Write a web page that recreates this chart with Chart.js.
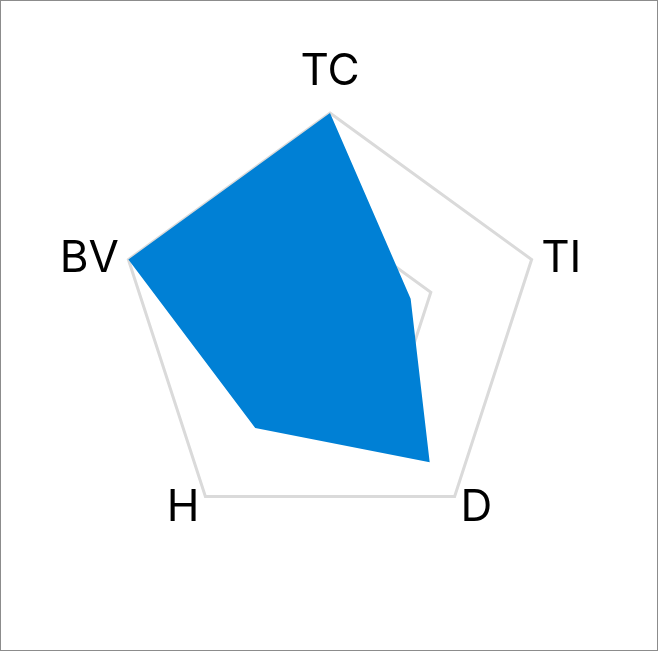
<!DOCTYPE html>
<html><head><meta charset="utf-8">
<script src="https://cdn.jsdelivr.net/npm/chart.js@4"></script>
<style>
html,body{margin:0;padding:0;background:#fff;}
#wrap{width:658px;height:651px;box-sizing:border-box;border:1px solid #8c8c8c;position:relative;}
canvas{display:block;}
</style></head><body>
<div id="wrap"><canvas id="c" width="656" height="649"></canvas></div>
<script>
const categories = ["TC","TI","D","H","BV"];
const values = [1.0, 0.4, 0.8, 0.6, 1.0];
const tickSteps = [0, 0.5, 1.0];

const labelFont = '44px Inter';
const capHeight = 32;

const pointLabelPlugin = {
  id: 'customPointLabels',
  afterDraw(chart) {
    const scale = chart.scales.r;
    const ctx = chart.ctx;
    ctx.save();
    ctx.font = labelFont;
    ctx.fillStyle = '#000';
    ctx.textBaseline = 'alphabetic';
    const labels = chart.data.labels;
    labels.forEach((lab, i) => {
      const base = scale.getPointPosition(i, scale.drawingArea);
      if (Math.abs(base.x - scale.xCenter) < 2) {
        const p = scale.getPointPosition(i, scale.drawingArea + 28);
        ctx.textAlign = 'center';
        ctx.fillText(lab, p.x, p.y);
      } else {
        const p = scale.getPointPosition(i, scale.drawingArea + 10);
        ctx.textAlign = p.x > scale.xCenter ? 'left' : 'right';
        ctx.fillText(lab, p.x, p.y + capHeight / 2);
      }
    });
    ctx.restore();
  }
};

new Chart(document.getElementById('c'), {
  type: 'radar',
  data: {
    labels: categories,
    datasets: [{
      data: values,
      backgroundColor: '#0080d5',
      borderColor: '#0080d5',
      borderWidth: 0,
      pointRadius: 0,
      fill: true
    }]
  },
  options: {
    responsive: false,
    animation: false,
    plugins: { legend: { display: false }, tooltip: { enabled: false } },
    layout: { padding: { top: 112, bottom: 113, left: 117, right: 115 } },
    scales: {
      r: {
        min: tickSteps[0],
        max: tickSteps[tickSteps.length-1],
        ticks: { display: false, stepSize: tickSteps[1]-tickSteps[0] },
        angleLines: { display: false },
        grid: { color: '#dadada', lineWidth: 3 },
        pointLabels: { display: false }
      }
    }
  },
  plugins: [pointLabelPlugin]
});
</script>
</body></html>
